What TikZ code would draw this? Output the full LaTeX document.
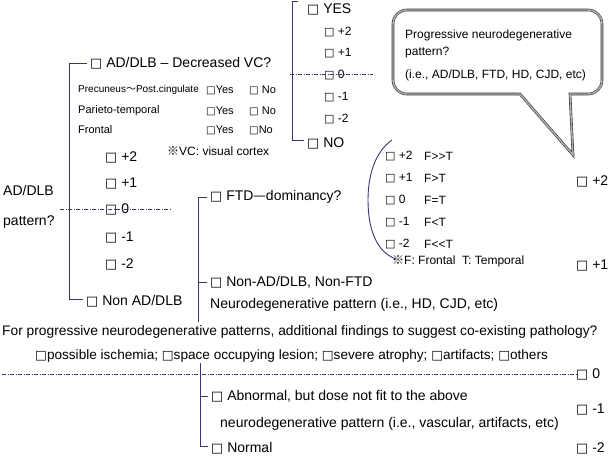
\documentclass[tikz,border=0pt]{standalone}
\usepackage{fontspec}
\setmainfont{Liberation Sans}
\newfontfamily\cjk{Noto Sans CJK JP}
\newfontfamily\bxf{DejaVu Sans}[Scale=0.92]
\newcommand\bx{{\bxf □}}
\definecolor{brc}{RGB}{55,55,110}
\tikzset{
  t/.style={anchor=west, inner sep=0pt, font=\fontsize{14}{16}\selectfont},
  ts/.style={anchor=west, inner sep=0pt, font=\fontsize{12}{14}\selectfont},
  txs/.style={anchor=west, inner sep=0pt, font=\fontsize{11}{13}\selectfont},
  br/.style={draw=brc, line width=0.9pt},
  dd/.style={draw=brc, line width=0.6pt, dash pattern=on 4pt off 1.5pt on 1pt off 1.5pt},
  bubble/.style={draw=black!80, line width=0.6pt, double=black!30, double distance=1.4pt, fill=white},
}
\begin{document}
\begin{tikzpicture}[x=1pt,y=-1pt]
\useasboundingbox (0,0) rectangle (609,456);

% ---- speech bubble
\draw[bubble] (520,94) -- (407,94) .. controls (399,94) and (393,88) .. (393,80)
  -- (393,24) .. controls (393,16) and (399,10) .. (407,10)
  -- (588,10) .. controls (596,10) and (602,16) .. (602,24)
  -- (602,80) .. controls (602,88) and (596,94) .. (588,94)
  -- (570,94) -- (573,155) -- cycle;
\node[ts] (b1) at (405,35) {Progressive neurodegenerative};
\node[ts] (b2) at (405,53) {pattern?};
\node[ts] (b3) at (405,75) {(i.e., AD/DLB, FTD, HD, CJD, etc)};

% ---- left labels
\node[t] (adlb1) at (3,190) {AD/DLB};
\node[t] (adlb2) at (3,222) {pattern?};

% ---- AD/DLB branch
\node[t] (adq) at (90,63) {\bx{} AD/DLB – Decreased VC?};
\node[txs, font=\fontsize{10}{12}\selectfont] (pre) at (78,90) {Precuneus{\cjk ～}Post.cingulate};
\node[txs] (par) at (78,111) {Parieto-temporal};
\node[txs] (fro) at (78,130) {Frontal};
\node[txs] (ya) at (206,90) {\bx{}Yes};
\node[txs] (na) at (249,90) {\bx{} No};
\node[txs] (yb) at (206,111) {\bx{}Yes};
\node[txs] (nb) at (249,111) {\bx{} No};
\node[txs] (yc) at (206,130) {\bx{}Yes};
\node[txs] (nc) at (249,130) {\bx{}No};
\node[ts] (vc) at (167,151) {{\cjk ※}VC: visual cortex};

\node[t] (l2) at (105,157) {\bx{} +2};
\node[t] (l1) at (105,183) {\bx{} +1};
\node[t] (l0) at (105,209) {\bx{} 0};
\node[t] (lm1) at (105,237) {\bx{} -1};
\node[t] (lm2) at (105,264) {\bx{} -2};
\coordinate (ld1) at (60,209);
\coordinate (ld2) at (170,209);
\draw[dd] (ld1) -- (ld2);

\node[t] (nonad) at (86,301) {\bx{} Non AD/DLB};
\coordinate (mx) at (69,0);
\draw[br] ([xshift=-3pt]adq.west) -- (adq.west -| mx) -- ([yshift=2pt]nonad.west -| mx) -- ([xshift=-3pt,yshift=2pt]nonad.west);

% ---- YES / NO branch
\node[t] (yes) at (307,9) {\bx{} YES};
\node[ts] (yp2) at (324,32) {\bx{} +2};
\node[ts] (yp1) at (324,53) {\bx{} +1};
\node[ts] (y0) at (324,75) {\bx{} 0};
\node[ts] (ym1) at (324,97) {\bx{} -1};
\node[ts] (ym2) at (324,119) {\bx{} -2};
\node[t] (no) at (307,143) {\bx{} NO};
\coordinate (yt) at (292,1.5);
\coordinate (yt2) at (298,1.5);
\draw[br] (yt2) -- (yt) -- ([yshift=3pt]no.west -| yt) -- ([xshift=-3pt,yshift=3pt]no.west);
\coordinate (yd1) at (290,74);
\coordinate (yd2) at (373,74);
\draw[dd] (yd1) -- (yd2);

% ---- FTD branch
\node[t] (ftd) at (210,197) {\bx{} FTD{\cjk —}dominancy?};
\node[t] (nonftd) at (210,282) {\bx{} Non-AD/DLB, Non-FTD};
\node[t] (ndp) at (210,305) {Neurodegenerative pattern (i.e., HD, CJD, etc)};
\coordinate (fx) at (198,322);
\draw[br] ([xshift=-3pt]ftd.west) -- (ftd.west -| fx) -- (fx);
\draw[br] (nonftd.west -| fx) -- ([xshift=-3pt]nonftd.west);

\node[ts] (f2) at (385,156) {\bx{} +2};
\node[ts] (r2) at (424,156) {F>{}>T};
\node[ts] (f1) at (385,178) {\bx{} +1};
\node[ts] (r1) at (424,178) {F>T};
\node[ts] (f0) at (385,200) {\bx{} 0};
\node[ts] (r0) at (424,200) {F=T};
\node[ts] (fm1) at (385,222) {\bx{} -1};
\node[ts] (rm1) at (424,222) {F<T};
\node[ts] (fm2) at (385,244) {\bx{} -2};
\node[ts] (rm2) at (424,244) {F<{}<T};
\node[ts] (fnote) at (392,261) {{\cjk ※}F: Frontal\ \ T: Temporal};
\coordinate (pa) at (392,140);
\coordinate (pb) at (368,200);
\coordinate (pc) at (396,259);
\draw[br] (pa) .. controls (375,152) and (368,175) .. (pb) .. controls (368,228) and (376,252) .. (pc);

% ---- right score column
\node[t] (s2) at (576,181) {\bx{} +2};
\node[t] (s1) at (576,265) {\bx{} +1};
\node[t] (s0) at (576,374) {\bx{} 0};
\node[t] (sm1) at (576,409) {\bx{} -1};
\node[t] (sm2) at (576,448) {\bx{} -2};

% ---- bottom part
\node[t, font=\fontsize{13.8}{16}\selectfont] (q) at (2,332) {For progressive neurodegenerative patterns, additional findings to suggest co-existing pathology?};
\node[t, font=\fontsize{13.6}{16}\selectfont] (opts) at (35,356) {\bx{}possible ischemia; \bx{}space occupying lesion; \bx{}severe atrophy; \bx{}artifacts; \bx{}others};
\coordinate (bd) at (2,374);
\draw[dd] (bd) -- (s0.west);

\node[t] (abn) at (211,396) {\bx{} Abnormal, but dose not fit to the above};
\node[t] (abn2) at (220,424) {neurodegenerative pattern (i.e., vascular, artifacts, etc)};
\node[t] (nor) at (211,448) {\bx{} Normal};
\coordinate (bx) at (200,363);
\draw[br] (bx) -- ([yshift=2pt]nor.west -| bx) -- ([xshift=-3pt,yshift=2pt]nor.west);
\draw[br] (abn.west -| bx) -- ([xshift=-3pt]abn.west);
\end{tikzpicture}
\end{document}
